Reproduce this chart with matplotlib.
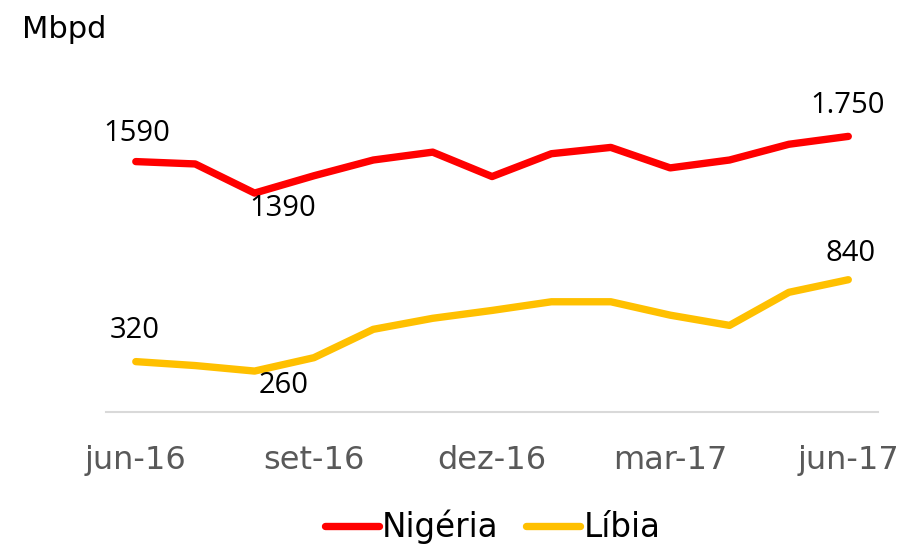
import numpy as np
import matplotlib.pyplot as plt

plt.rcParams['font.family'] = 'DejaVu Sans'

months = ['jun-16', 'jul-16', 'ago-16', 'set-16', 'out-16', 'nov-16', 'dez-16',
          'jan-17', 'fev-17', 'mar-17', 'abr-17', 'mai-17', 'jun-17']
nigeria = [1590, 1575, 1390, 1500, 1600, 1650, 1495, 1640, 1680, 1550, 1600, 1700, 1750]
libia = [320, 295, 260, 345, 525, 595, 645, 700, 700, 615, 550, 760, 840]

# rótulos: (série, índice, texto, deslocamento em px)
labels = [
    ('nigeria', 0, '1590', (1, 28)),
    ('nigeria', 2, '1390', (28, -15)),
    ('nigeria', 12, '1.750', (-1, 31)),
    ('libia', 0, '320', (-1, 31)),
    ('libia', 2, '260', (29, -14)),
    ('libia', 12, '840', (2, 26)),
]

fig = plt.figure(figsize=(9.07, 5.45), dpi=100)
ax = fig.add_axes([0.117, 0.244, 0.851, 0.578])

x = np.arange(len(months))
ax.plot(x, nigeria, color='#FF0000', lw=5.3, solid_capstyle='round', label='Nigéria')
ax.plot(x, libia, color='#FFC000', lw=5.3, solid_capstyle='round', label='Líbia')

series = {'nigeria': nigeria, 'libia': libia}
for name, i, txt, (dx, dy) in labels:
    ax.annotate(txt, (x[i], series[name][i]), xytext=(dx * 0.72, dy * 0.72),
                textcoords='offset points', ha='center', va='center',
                fontsize=21, family='Open Sans', color='black')

ax.set_xlim(-0.5, 12.5)
ax.set_ylim(0, 2000)
ax.set_xticks(x[::3])
ax.set_xticklabels(months[::3], fontsize=23, color='#595959')
ax.tick_params(length=0, pad=24)
ax.set_yticks([])
for s in ['top', 'right', 'left']:
    ax.spines[s].set_visible(False)
ax.spines['bottom'].set_color('#D9D9D9')
ax.spines['bottom'].set_linewidth(1.5)

fig.text(22 / 907, 1 - 29 / 545, 'Mbpd', fontsize=22, va='center', ha='left')

fig.legend(loc='center', bbox_to_anchor=(0.543, 0.033), ncol=2, frameon=False,
           fontsize=23.5, handlelength=1.65, handletextpad=0.1, columnspacing=0.85)

fig.savefig('out.png', dpi=100)
